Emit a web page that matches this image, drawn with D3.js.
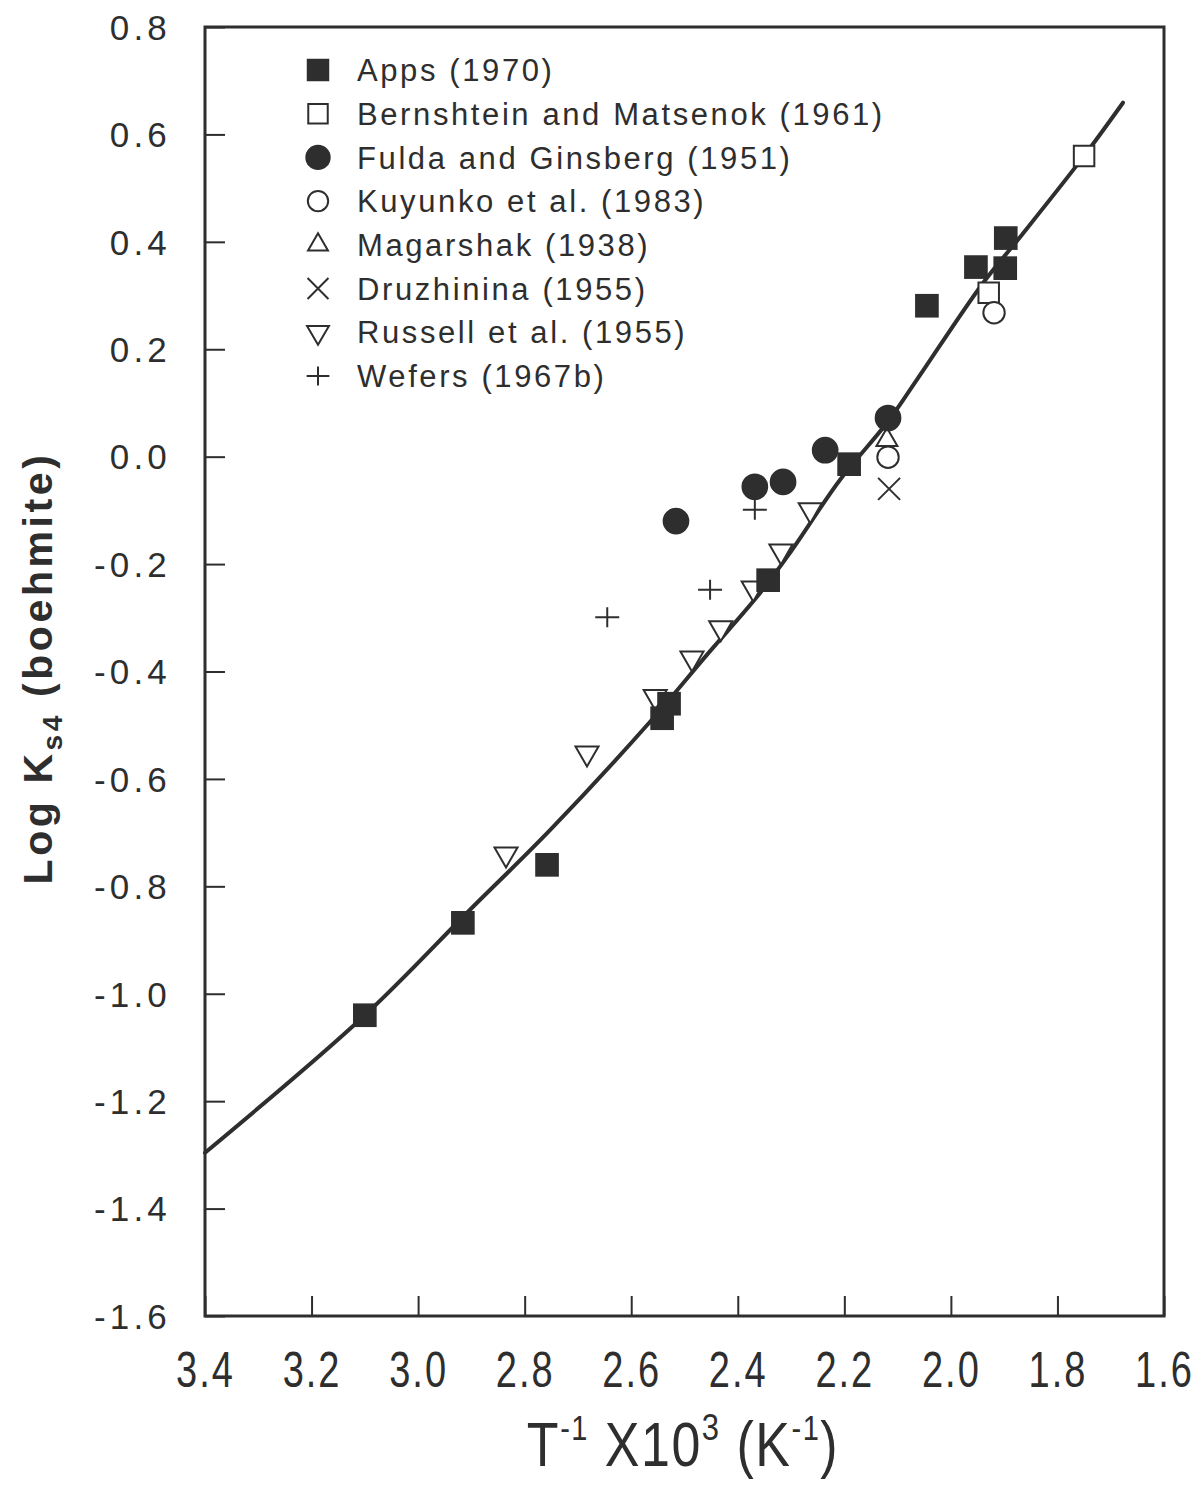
<!DOCTYPE html>
<html>
<head>
<meta charset="utf-8">
<script src="https://cdn.jsdelivr.net/npm/d3@7/dist/d3.min.js"></script>
<style>
  html, body { margin: 0; padding: 0; background: #ffffff; }
  svg { display: block; font-family: "Liberation Sans", Arial, Helvetica, sans-serif; }
</style>
</head>
<body>
<svg id="chart" width="1194" height="1486"></svg>
<script>
// Boehmite solubility constant vs inverse temperature

// Axis ticks
const xTickValues = [3.4, 3.2, 3.0, 2.8, 2.6, 2.4, 2.2, 2.0, 1.8, 1.6];
const xTickLabels = ["3.4", "3.2", "3.0", "2.8", "2.6", "2.4", "2.2", "2.0", "1.8", "1.6"];
const yTickValues = [0.8, 0.6, 0.4, 0.2, 0.0, -0.2, -0.4, -0.6, -0.8, -1.0, -1.2, -1.4, -1.6];
const yTickLabels = ["0.8", "0.6", "0.4", "0.2", "0.0", "-0.2", "-0.4", "-0.6", "-0.8", "-1.0", "-1.2", "-1.4", "-1.6"];

// Data sets: x = 1000/T (K^-1), y = log Ks4
const appsX = [3.100, 2.916, 2.758, 2.542, 2.529, 2.343, 2.191, 2.045, 1.953, 1.898, 1.897];
const appsY = [-1.040, -0.868, -0.760, -0.487, -0.460, -0.230, -0.014, 0.281, 0.353, 0.351, 0.407];

const bernshteinX = [1.750, 1.929];
const bernshteinY = [0.560, 0.305];

const fuldaX = [2.516, 2.368, 2.315, 2.236, 2.118];
const fuldaY = [-0.120, -0.056, -0.047, 0.012, 0.072];

const kuyunkoX = [1.919, 2.118];
const kuyunkoY = [0.268, -0.001];

const magarshakX = [2.120];
const magarshakY = [0.031];

const druzhininaX = [2.116];
const druzhininaY = [-0.060];

const russellX = [2.835, 2.683, 2.555, 2.486, 2.432, 2.371, 2.319, 2.264];
const russellY = [-0.740, -0.552, -0.447, -0.375, -0.319, -0.245, -0.176, -0.099];

const wefersX = [2.645, 2.452, 2.368];
const wefersY = [-0.299, -0.248, -0.099];

// Fitted curve
const fitX = [3.400, 3.100, 2.903, 2.752, 2.565, 2.458, 2.364, 2.302, 2.208, 2.120, 2.064, 1.940, 1.870, 1.750, 1.677];
const fitY = [-1.296, -1.040, -0.844, -0.695, -0.494, -0.369, -0.261, -0.179, -0.043, 0.063, 0.143, 0.323, 0.409, 0.560, 0.659];

// Legend entries
const legendNames = [
  "Apps (1970)",
  "Bernshtein and Matsenok (1961)",
  "Fulda and Ginsberg (1951)",
  "Kuyunko et al. (1983)",
  "Magarshak (1938)",
  "Druzhinina (1955)",
  "Russell et al. (1955)",
  "Wefers (1967b)"
];
const legendKinds = ["fsquare", "osquare", "fcircle", "ocircle", "tri_up", "cross_x", "tri_down", "plus"];

const ink = "#2e2e2e";
const margin = { left: 205, top: 27, right: 30, bottom: 170 };
const innerW = 959, innerH = 1289;

const svg = d3.select("#chart");
const g = svg.append("g").attr("transform", `translate(${margin.left},${margin.top})`);

const x = d3.scaleLinear().domain([3.4, 1.6]).range([0, innerW]);
const y = d3.scaleLinear().domain([-1.6, 0.8]).range([innerH, 0]);

// Marker drawing
function markerPath(kind) {
  switch (kind) {
    case "fsquare": return { d: d3.symbol(d3.symbolSquare, 560)(), fill: ink, stroke: "none" };
    case "osquare": return { d: d3.symbol(d3.symbolSquare, 420)(), fill: "#ffffff", stroke: ink };
    case "fcircle": return { d: d3.symbol(d3.symbolCircle, 560)(), fill: ink, stroke: "none" };
    case "ocircle": return { d: d3.symbol(d3.symbolCircle, 360)(), fill: "#ffffff", stroke: ink };
    case "tri_up": return { d: d3.symbol(d3.symbolTriangle, 190)(), fill: "#ffffff", stroke: ink };
    case "tri_down": return { d: d3.symbol(d3.symbolTriangle, 230)(), fill: "#ffffff", stroke: ink, rot: 180 };
    case "cross_x": {
      const p = d3.path(); const r = 11;
      p.moveTo(-r, -r); p.lineTo(r, r); p.moveTo(r, -r); p.lineTo(-r, r);
      return { d: p.toString(), fill: "none", stroke: ink };
    }
    case "plus": {
      const p = d3.path(); const r = 12;
      p.moveTo(-r, 0); p.lineTo(r, 0); p.moveTo(0, -r + 2); p.lineTo(0, r - 2);
      return { d: p.toString(), fill: "none", stroke: ink };
    }
  }
}

function drawSeries(xs, ys, kind) {
  const m = markerPath(kind);
  const pts = xs.map((v, i) => ({ u: v, v: ys[i] }));
  g.append("g").selectAll("path")
    .data(pts)
    .join("path")
    .attr("d", m.d)
    .attr("transform", d => `translate(${x(d.u)},${y(d.v)})` + (m.rot ? ` rotate(${m.rot})` : ""))
    .attr("fill", m.fill)
    .attr("stroke", m.stroke)
    .attr("stroke-width", 2);
}

// Frame
g.append("rect")
  .attr("x", 0).attr("y", 0)
  .attr("width", innerW).attr("height", innerH)
  .attr("fill", "none")
  .attr("stroke", ink)
  .attr("stroke-width", 3);

// X axis (ticks pointing inward)
const xAxis = g.append("g")
  .attr("transform", `translate(0,${innerH})`)
  .call(d3.axisBottom(x).tickValues(xTickValues).tickSize(-20).tickFormat((d, i) => xTickLabels[i]));
xAxis.select(".domain").remove();
xAxis.selectAll(".tick line").attr("stroke", ink).attr("stroke-width", 2);
xAxis.selectAll(".tick text")
  .attr("fill", ink)
  .attr("font-size", 38)
  .attr("letter-spacing", 2)
  .attr("dy", null)
  .attr("y", 58 / 1.3)
  .attr("transform", "scale(1,1.3)")
  .attr("dominant-baseline", "middle");

// Y axis (ticks pointing inward)
const yAxis = g.append("g")
  .call(d3.axisLeft(y).tickValues(yTickValues).tickSize(-20).tickFormat((d, i) => yTickLabels[i]));
yAxis.select(".domain").remove();
yAxis.selectAll(".tick line").attr("stroke", ink).attr("stroke-width", 2);
yAxis.selectAll(".tick text")
  .attr("fill", ink)
  .attr("font-size", 35)
  .attr("letter-spacing", 4.2)
  .attr("x", -34)
  .attr("dy", "0.35em");

// Fitted curve
const line = d3.line()
  .x(d => x(d.u))
  .y(d => y(d.v))
  .curve(d3.curveCatmullRom.alpha(0.5));
g.append("path")
  .datum(fitX.map((v, i) => ({ u: v, v: fitY[i] })))
  .attr("d", line)
  .attr("fill", "none")
  .attr("stroke", ink)
  .attr("stroke-width", 4)
  .attr("stroke-linecap", "round");

// Data points
drawSeries(russellX, russellY, "tri_down");
drawSeries(bernshteinX, bernshteinY, "osquare");
drawSeries(kuyunkoX, kuyunkoY, "ocircle");
drawSeries(magarshakX, magarshakY, "tri_up");
drawSeries(druzhininaX, druzhininaY, "cross_x");
drawSeries(wefersX, wefersY, "plus");
drawSeries(appsX, appsY, "fsquare");
drawSeries(fuldaX, fuldaY, "fcircle");

// Legend
const legend = g.append("g").attr("transform", "translate(113,43)");
legendNames.forEach((name, i) => {
  const row = legend.append("g").attr("transform", `translate(0,${i * 43.7})`);
  const m = markerPath(legendKinds[i]);
  const s = 0.95;
  row.append("path")
    .attr("d", m.d)
    .attr("transform", (m.rot ? `rotate(${m.rot}) ` : "") + `scale(${s})`)
    .attr("fill", m.fill)
    .attr("stroke", m.stroke)
    .attr("stroke-width", 2 / s);
  row.append("text")
    .attr("x", 39)
    .attr("dy", "0.36em")
    .attr("font-size", 31)
    .attr("letter-spacing", 2.6)
    .attr("fill", ink)
    .text(name);
});

// Axis titles
const xTitle = svg.append("text")
  .attr("transform", `translate(${margin.left + 478},1466) scale(1,1.2)`)
  .attr("text-anchor", "middle")
  .attr("font-size", 52)
  .attr("letter-spacing", 1.5)
  .attr("fill", ink);
xTitle.append("tspan").text("T");
xTitle.append("tspan").attr("font-size", 29).attr("dy", -22).text("-1");
xTitle.append("tspan").attr("dy", 22).text(" X10");
xTitle.append("tspan").attr("font-size", 31).attr("dy", -22).text("3");
xTitle.append("tspan").attr("dy", 22).text(" (K");
xTitle.append("tspan").attr("font-size", 29).attr("dy", -22).text("-1");
xTitle.append("tspan").attr("dy", 22).text(")");

const yTitle = svg.append("text")
  .attr("transform", "translate(52,668) rotate(-90)")
  .attr("text-anchor", "middle")
  .attr("font-size", 41)
  .attr("font-weight", "bold")
  .attr("letter-spacing", 3.6)
  .attr("fill", ink);
yTitle.append("tspan").text("Log K");
yTitle.append("tspan").attr("font-size", 28).attr("dy", 10).text("s4");
yTitle.append("tspan").attr("dy", -10).text(" (boehmite)");
</script>
</body>
</html>
